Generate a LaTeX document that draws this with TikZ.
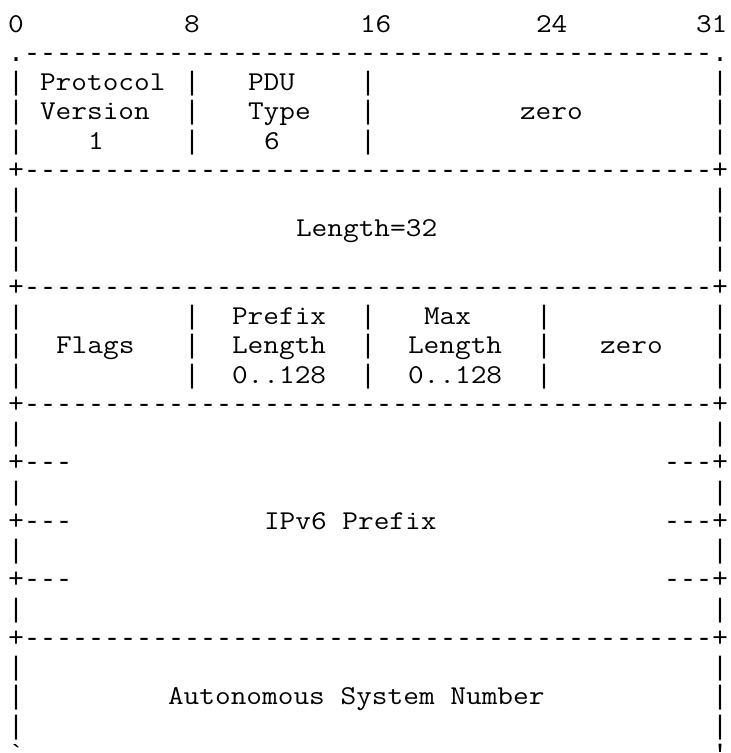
\documentclass[tikz,border=0pt]{standalone}
\usepackage{fontspec}
\setmonofont[FakeStretch=1.12]{Latin Modern Mono}
\newfontfamily\framefont{Liberation Mono}
\newcommand\dashrun{-------------------------------------------}
\tikzset{
  asciibase/.style={anchor=base west, inner sep=0pt, outer sep=0pt, text=black},
  ascii/.style={asciibase, font=\ttfamily\fontsize{20.4pt}{22pt}\selectfont},
  frame/.style={asciibase, font=\framefont\fontsize{20pt}{22pt}\selectfont}}
% name, column, row, text
\newcommand\glyphat[4]{\node[ascii] (#1) at ({8+16*#2},{32+29.25*(#3-1)}) {#4};}
\newcommand\frameat[4]{\node[frame] (#1) at ({8+16*#2},{32+29.25*(#3-1)}) {#4};}
\begin{document}
\begin{tikzpicture}[x=0.75pt,y=-0.75pt]
\useasboundingbox (0,0) rectangle (731,753);
\clip (0,0) rectangle (731,753);
% bit ruler
\glyphat{b0}{0}{1}{0}
\glyphat{b8}{11}{1}{8}
\glyphat{b16}{22}{1}{16}
\glyphat{b24}{33}{1}{24}
\glyphat{b31}{43}{1}{31}
% top border
\frameat{top}{0}{2}{.\dashrun.}
% row 3-5
\frameat{r3a}{0}{3}{|}\glyphat{r3t}{2}{3}{Protocol}\frameat{r3b}{11}{3}{|}\glyphat{r3u}{15}{3}{PDU}\frameat{r3c}{22}{3}{|}\frameat{r3d}{44}{3}{|}
\frameat{r4a}{0}{4}{|}\glyphat{r4t}{2}{4}{Version}\frameat{r4b}{11}{4}{|}\glyphat{r4u}{15}{4}{Type}\frameat{r4c}{22}{4}{|}\glyphat{r4z}{32}{4}{zero}\frameat{r4d}{44}{4}{|}
\frameat{r5a}{0}{5}{|}\glyphat{r5t}{5}{5}{1}\frameat{r5b}{11}{5}{|}\glyphat{r5u}{16}{5}{6}\frameat{r5c}{22}{5}{|}\frameat{r5d}{44}{5}{|}
\frameat{sep6}{0}{6}{+\dashrun+}
% length
\frameat{r7a}{0}{7}{|}\frameat{r7d}{44}{7}{|}
\frameat{r8a}{0}{8}{|}\glyphat{r8t}{18}{8}{Length=32}\frameat{r8d}{44}{8}{|}
\frameat{r9a}{0}{9}{|}\frameat{r9d}{44}{9}{|}
\frameat{sep10}{0}{10}{+\dashrun+}
% flags row
\frameat{r11a}{0}{11}{|}\frameat{r11b}{11}{11}{|}\glyphat{r11p}{14}{11}{Prefix}\frameat{r11c}{22}{11}{|}\glyphat{r11m}{26}{11}{Max}\frameat{r11e}{33}{11}{|}\frameat{r11d}{44}{11}{|}
\frameat{r12a}{0}{12}{|}\glyphat{r12f}{3}{12}{Flags}\frameat{r12b}{11}{12}{|}\glyphat{r12p}{14}{12}{Length}\frameat{r12c}{22}{12}{|}\glyphat{r12m}{25}{12}{Length}\frameat{r12e}{33}{12}{|}\glyphat{r12z}{37}{12}{zero}\frameat{r12d}{44}{12}{|}
\frameat{r13a}{0}{13}{|}\frameat{r13b}{11}{13}{|}\glyphat{r13p}{14}{13}{0..128}\frameat{r13c}{22}{13}{|}\glyphat{r13m}{25}{13}{0..128}\frameat{r13e}{33}{13}{|}\frameat{r13d}{44}{13}{|}
\frameat{sep14}{0}{14}{+\dashrun+}
% IPv6 prefix
\frameat{r15a}{0}{15}{|}\frameat{r15d}{44}{15}{|}
\frameat{r16a}{0}{16}{+---}\frameat{r16d}{41}{16}{---+}
\frameat{r17a}{0}{17}{|}\frameat{r17d}{44}{17}{|}
\frameat{r18a}{0}{18}{+---}\glyphat{r18t}{16}{18}{IPv6 Prefix}\frameat{r18d}{41}{18}{---+}
\frameat{r19a}{0}{19}{|}\frameat{r19d}{44}{19}{|}
\frameat{r20a}{0}{20}{+---}\frameat{r20d}{41}{20}{---+}
\frameat{r21a}{0}{21}{|}\frameat{r21d}{44}{21}{|}
\frameat{sep22}{0}{22}{+\dashrun+}
% ASN
\frameat{r23a}{0}{23}{|}\frameat{r23d}{44}{23}{|}
\frameat{r24a}{0}{24}{|}\glyphat{r24t}{10}{24}{Autonomous System Number}\frameat{r24d}{44}{24}{|}
\frameat{r25a}{0}{25}{|}\frameat{r25d}{44}{25}{|}
\frameat{bot}{0}{26}{`\dashrun'}
\end{tikzpicture}
\end{document}
